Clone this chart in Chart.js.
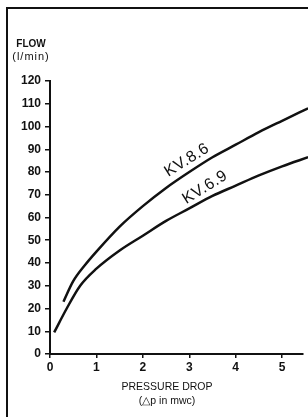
<!DOCTYPE html>
<html><head><meta charset="utf-8">
<script src="https://cdn.jsdelivr.net/npm/chart.js@4"></script>
<style>
html,body{margin:0;padding:0;background:#fff;}
#wrap{position:relative;width:308px;height:417px;overflow:hidden;}
#frame{position:absolute;left:6px;top:7px;width:320px;height:430px;border-left:2px solid #111;border-top:2px solid #111;pointer-events:none;}
canvas{position:absolute;left:0;top:0;}
</style></head><body>
<div id="wrap"><canvas id="c" width="308" height="417"></canvas><div id="frame"></div></div>
<script>
// Data
const pressureKV86 = [0.29, 0.5, 0.75, 1.0, 1.5, 2.0, 2.5, 3.0, 3.5, 4.0, 4.5, 5.0, 5.56];
const flowKV86     = [23,   32,  39,   45,  56,  65,  73,  80,  86.5, 92, 97.5, 102.5, 108];
const pressureKV69 = [0.09, 0.36, 0.65, 1.0, 1.5, 2.0, 2.5, 3.0, 3.5, 4.0, 4.5, 5.0, 5.56];
const flowKV69     = [9.5,  20,   30,   37.5, 45.5, 52, 58.5, 64, 69.5, 74, 78.5, 82.5, 86.5];
const seriesNames  = ['KV.8.6', 'KV.6.9'];
const xTickValues  = [0, 1, 2, 3, 4, 5];
const yTickValues  = [0, 10, 20, 30, 40, 50, 60, 70, 80, 90, 100, 110, 120];
const yAxisTitle   = ['FLOW', '(l/min)'];
const xAxisTitle   = ['PRESSURE DROP', '(\u25B3p in mwc)'];

const toPts = (xs, ys) => xs.map((v, i) => ({x: v, y: ys[i]}));
const INK = '#111';

const textPlugin = {
  id: 'texts',
  afterDraw(chart) {
    const {ctx, scales: {x, y}} = chart;
    ctx.save();
    ctx.fillStyle = INK;
    ctx.textAlign = 'center';
    ctx.textBaseline = 'middle';
    ctx.font = 'bold 10px "Liberation Sans"';
    ctx.fillText(yAxisTitle[0], 31, 44);
    ctx.font = '11px "Liberation Sans"';
    ctx.letterSpacing = '1px';
    ctx.fillText(yAxisTitle[1], 31, 57);
    ctx.letterSpacing = '0px';
    ctx.font = '10.5px "Liberation Sans"';
    ctx.fillText(xAxisTitle[0], 167, 387);
    ctx.fillText(xAxisTitle[1], 167, 401);
    // curve labels, anchored in data coordinates
    const anchors = [[2.95, 85.2], [3.34, 73.2]];
    ctx.font = '16px "Liberation Sans"';
    ctx.letterSpacing = '0.5px';
    anchors.forEach((a, i) => {
      ctx.save();
      ctx.translate(x.getPixelForValue(a[0]), y.getPixelForValue(a[1]));
      ctx.rotate(-32 * Math.PI / 180);
      ctx.fillText(seriesNames[i], 0, 0);
      ctx.restore();
    });
    ctx.restore();
  }
};

new Chart(document.getElementById('c'), {
  type: 'line',
  data: {
    datasets: [
      {label: seriesNames[0], data: toPts(pressureKV86, flowKV86)},
      {label: seriesNames[1], data: toPts(pressureKV69, flowKV69)}
    ].map(d => Object.assign(d, {
      borderColor: INK, borderWidth: 2.5, pointRadius: 0, fill: false,
      cubicInterpolationMode: 'monotone', clip: false
    }))
  },
  options: {
    responsive: false,
    animation: false,
    devicePixelRatio: 1,
    layout: {padding: {top: 81, left: 0, right: 5, bottom: 0}},
    plugins: {legend: {display: false}, tooltip: {enabled: false}},
    scales: {
      x: {
        type: 'linear', min: 0, max: 5.45,
        afterFit(s) { s.height = 63; },
        afterBuildTicks(s) { s.ticks = xTickValues.map(v => ({value: v})); },
        border: {display: true, color: INK, width: 2},
        grid: {display: true, drawOnChartArea: false, drawTicks: true, tickLength: 4, color: INK, lineWidth: 1.5},
        ticks: {color: INK, padding: 2, font: {family: 'Liberation Sans', size: 12, weight: 'bold'}}
      },
      y: {
        type: 'linear', min: 0, max: 120,
        afterFit(s) { s.width = 50; },
        afterBuildTicks(s) { s.ticks = yTickValues.map(v => ({value: v})); },
        border: {display: true, color: INK, width: 2},
        grid: {display: true, drawOnChartArea: false, drawTicks: true, tickLength: 5, color: INK, lineWidth: 1.5},
        ticks: {color: INK, padding: 4, font: {family: 'Liberation Sans', size: 12, weight: 'bold'}}
      }
    }
  },
  plugins: [textPlugin]
});
</script>
</body></html>
